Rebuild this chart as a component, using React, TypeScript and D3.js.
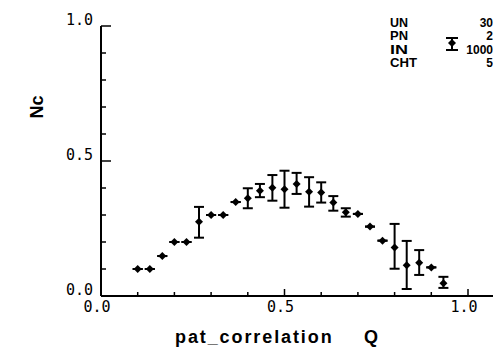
import React from "react";
import * as d3 from "d3";

const qValues = [0.1, 0.133, 0.167, 0.2, 0.233, 0.267, 0.3, 0.333, 0.367, 0.4, 0.433, 0.467, 0.5, 0.533, 0.567, 0.6, 0.633, 0.667, 0.7, 0.733, 0.767, 0.8, 0.833, 0.867, 0.9, 0.933];
const ncValues = [0.1, 0.1, 0.148, 0.2, 0.2, 0.275, 0.3, 0.3, 0.348, 0.362, 0.39, 0.401, 0.395, 0.415, 0.386, 0.383, 0.346, 0.31, 0.304, 0.257, 0.205, 0.18, 0.114, 0.123, 0.106, 0.047];
const ncLow = [0.1, 0.1, 0.148, 0.2, 0.2, 0.216, 0.3, 0.3, 0.348, 0.325, 0.366, 0.353, 0.327, 0.378, 0.331, 0.346, 0.316, 0.294, 0.304, 0.257, 0.205, 0.101, 0.026, 0.078, 0.106, 0.03];
const ncHigh = [0.1, 0.1, 0.148, 0.2, 0.2, 0.33, 0.3, 0.3, 0.348, 0.399, 0.415, 0.448, 0.464, 0.456, 0.44, 0.421, 0.37, 0.325, 0.304, 0.257, 0.205, 0.267, 0.204, 0.17, 0.106, 0.071];

const xTickLabels = ["0.0", "0.5", "1.0"];
const yTickLabels = ["0.0", "0.5", "1.0"];
const legendKeys = ["UN", "PN", "IN", "CHT"];
const legendVals = ["30", "2", "1000", "5"];

export default function App() {
  const W = 493, H = 352;
  const x = d3.scaleLinear().domain([0, 1]).range([101, 468]);
  const y = d3.scaleLinear().domain([0, 1]).range([296, 26]);
  const minor = d3.range(0, 11).map((i) => i / 10);
  const mono = "'DejaVu Sans Mono', 'Liberation Mono', monospace";
  const sans = "'Liberation Sans', Arial, sans-serif";
  const cap = 5;
  const diamond = (cx: number, cy: number, r: number) =>
    `M${cx - r},${cy}L${cx},${cy - r}L${cx + r},${cy}L${cx},${cy + r}Z`;
  const legendY = [26.5, 40, 53.5, 67];

  return (
    <svg width={W} height={H} style={{ position: "absolute", left: 0, top: 0, background: "#fff" }}>
      <rect x={0} y={0} width={W} height={H} fill="#fff" />
      {/* axes */}
      <line x1={x(0)} x2={W} y1={y(0)} y2={y(0)} stroke="#000" strokeWidth={2} />
      <line x1={x(0)} x2={x(0)} y1={y(0)} y2={y(1)} stroke="#000" strokeWidth={2} />
      {minor.map((v, i) => {
        const major = i === 5 || i === 10;
        return (
          <g key={"t" + i}>
            {i > 0 && (
              <line x1={x(v)} x2={x(v)} y1={y(0)} y2={y(0) - (major ? 7 : 4)} stroke="#000" strokeWidth={1.5} />
            )}
            {i > 0 && (
              <line x1={x(0)} x2={x(0) + (major ? 10 : 5)} y1={y(v)} y2={y(v)} stroke="#000" strokeWidth={1.5} />
            )}
          </g>
        );
      })}
      {xTickLabels.map((t) => (
        <text key={"xl" + t} x={x(+t) - 4} y={312} textAnchor="middle" fontFamily={mono} fontSize={15} fill="#000">
          {t}
        </text>
      ))}
      {yTickLabels.map((t) => (
        <text key={"yl" + t} x={93} y={y(+t) - 1} textAnchor="end" fontFamily={mono} fontSize={15} fill="#000">
          {t}
        </text>
      ))}
      {/* axis titles */}
      <text x={0} y={0} transform="translate(43,107) rotate(-90)" textAnchor="middle" fontFamily={sans} fontWeight="bold" fontSize={18} fill="#000">
        Nc
      </text>
      <text x={175} y={343} fontFamily={sans} fontWeight="bold" fontSize={18} letterSpacing={1.9} fill="#000">
        pat_correlation
      </text>
      <text x={364} y={343} fontFamily={sans} fontWeight="bold" fontSize={18} fill="#000">
        Q
      </text>
      {/* data */}
      {qValues.map((q, i) => {
        const cx = x(q);
        return (
          <g key={"p" + i}>
            <line x1={cx} x2={cx} y1={y(ncLow[i])} y2={y(ncHigh[i])} stroke="#000" strokeWidth={2} />
            <line x1={cx - cap} x2={cx + cap} y1={y(ncLow[i])} y2={y(ncLow[i])} stroke="#000" strokeWidth={2} />
            <line x1={cx - cap} x2={cx + cap} y1={y(ncHigh[i])} y2={y(ncHigh[i])} stroke="#000" strokeWidth={2} />
            <path d={diamond(cx, y(ncValues[i]), 4)} fill="#000" />
          </g>
        );
      })}
      {/* legend */}
      {legendKeys.map((k, i) => (
        <text key={"lk" + k} x={390} y={legendY[i]} fontFamily={sans} fontSize={12} fontWeight="bold" textLength={k.length * 9} lengthAdjust="spacingAndGlyphs" fill="#000">
          {k}
        </text>
      ))}
      {legendVals.map((v, i) => (
        <text key={"lv" + i} x={493} y={legendY[i]} textAnchor="end" fontFamily={sans} fontSize={12} fontWeight="bold" fill="#000">
          {v}
        </text>
      ))}
      <g>
        <line x1={452} x2={452} y1={38} y2={50} stroke="#000" strokeWidth={2} />
        <line x1={446} x2={458} y1={38} y2={38} stroke="#000" strokeWidth={2} />
        <line x1={446} x2={458} y1={50} y2={50} stroke="#000" strokeWidth={2} />
        <path d={diamond(452, 43, 4)} fill="#000" />
      </g>
    </svg>
  );
}
